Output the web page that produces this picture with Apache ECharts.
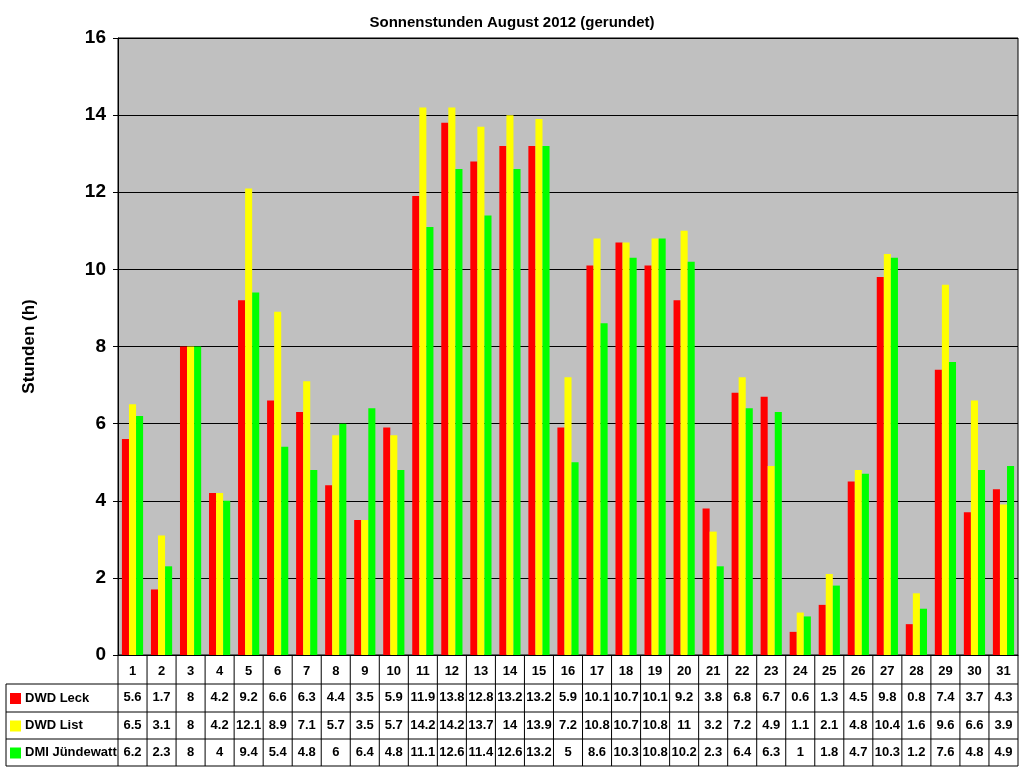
<!DOCTYPE html>
<html>
<head>
<meta charset="utf-8">
<script src="https://cdn.jsdelivr.net/npm/echarts@6/dist/echarts.min.js"></script>
<style>html,body{margin:0;padding:0;background:#fff}#chart{width:1024px;height:768px}</style>
</head>
<body>
<div id="chart"></div>
<script>
var days = [];
for (var d = 1; d <= 31; d++) days.push(String(d));
var seriesNames = ['DWD Leck', 'DWD List', 'DMI Jündewatt'];
var seriesColors = ['#FF0000', '#FFFF00', '#00FF00'];
var leck = [5.6,1.7,8,4.2,9.2,6.6,6.3,4.4,3.5,5.9,11.9,13.8,12.8,13.2,13.2,5.9,10.1,10.7,10.1,9.2,3.8,6.8,6.7,0.6,1.3,4.5,9.8,0.8,7.4,3.7,4.3];
var list = [6.5,3.1,8,4.2,12.1,8.9,7.1,5.7,3.5,5.7,14.2,14.2,13.7,14,13.9,7.2,10.8,10.7,10.8,11,3.2,7.2,4.9,1.1,2.1,4.8,10.4,1.6,9.6,6.6,3.9];
var dmi = [6.2,2.3,8,4,9.4,5.4,4.8,6,6.4,4.8,11.1,12.6,11.4,12.6,13.2,5,8.6,10.3,10.8,10.2,2.3,6.4,6.3,1,1.8,4.7,10.3,1.2,7.6,4.8,4.9];
var yTicks = [0, 2, 4, 6, 8, 10, 12, 14, 16];
var allData = [leck, list, dmi];

var L = 118, R = 1018, T = 38, B = 655;
var rowEdges = [655, 684, 712, 739, 766];
var font = 'Arial, "Liberation Sans", sans-serif';

var chart = echarts.init(document.getElementById('chart'));

// Tabellen-Rahmen
var graphics = [];
var cw = (R - L) / days.length;
graphics.push({type: 'line', shape: {x1: L, y1: B, x2: L, y2: rowEdges[4]}, style: {stroke: '#000', lineWidth: 1}});
for (var i = 1; i <= days.length; i++) {
    graphics.push({type: 'line', shape: {x1: L + i * cw, y1: B, x2: L + i * cw, y2: rowEdges[4]}, style: {stroke: '#000', lineWidth: 1}});
}
for (var r = 1; r < rowEdges.length; r++) {
    graphics.push({type: 'line', shape: {x1: 6, y1: rowEdges[r], x2: R, y2: rowEdges[r]}, style: {stroke: '#000', lineWidth: 1}});
}
graphics.push({type: 'line', shape: {x1: 6, y1: rowEdges[1], x2: 6, y2: rowEdges[4]}, style: {stroke: '#000', lineWidth: 1}});
seriesNames.forEach(function (name, k) {
    var cy = (rowEdges[k + 1] + rowEdges[k + 2]) / 2;
    graphics.push({type: 'rect', shape: {x: 10, y: cy - 5, width: 11, height: 11}, style: {fill: seriesColors[k]}});
    graphics.push({type: 'text', x: 25, y: cy, style: {text: name, font: 'bold 13px ' + font, fill: '#000', verticalAlign: 'middle'}});
});

var xAxes = [{
    type: 'category', data: days, gridIndex: 0, position: 'bottom',
    axisLine: {lineStyle: {color: '#000'}}, axisTick: {show: false},
    axisLabel: {color: '#000', fontWeight: 'bold', fontSize: 13, fontFamily: font, margin: 10}
}];
allData.forEach(function (arr, k) {
    var cy = (rowEdges[k + 1] + rowEdges[k + 2]) / 2;
    xAxes.push({
        type: 'category', data: arr.map(String), gridIndex: 0, position: 'bottom',
        offset: cy - B - 7, axisLine: {show: false}, axisTick: {show: false},
        axisLabel: {color: '#000', fontWeight: 'bold', fontSize: 13, fontFamily: font, margin: 0, interval: 0}
    });
});

chart.setOption({
    animation: false,
    title: {
        text: 'Sonnenstunden August 2012 (gerundet)', left: 'center', top: 10,
        textStyle: {fontSize: 15, fontWeight: 'bold', fontFamily: font, color: '#000'}
    },
    grid: {left: L, right: 1024 - R, top: T, bottom: 768 - B, backgroundColor: '#C0C0C0', show: true, borderColor: '#000', borderWidth: 1},
    xAxis: xAxes,
    yAxis: {
        type: 'value', min: yTicks[0], max: yTicks[yTicks.length - 1], interval: 2,
        name: 'Stunden (h)', nameLocation: 'middle', nameGap: 80,
        nameTextStyle: {fontSize: 17, fontWeight: 'bold', fontFamily: font, color: '#000'},
        axisLine: {show: true, lineStyle: {color: '#000'}},
        axisTick: {show: true, inside: false, length: 5, lineStyle: {color: '#000'}},
        axisLabel: {color: '#000', fontSize: 19, fontWeight: 'bold', fontFamily: font, margin: 12},
        splitLine: {lineStyle: {color: '#000', width: 1}}
    },
    series: allData.map(function (arr, k) {
        return {
            name: seriesNames[k], type: 'bar', data: arr, xAxisIndex: 0,
            barGap: '0%', barCategoryGap: '27%',
            itemStyle: {color: seriesColors[k]}
        };
    }),
    graphic: graphics
});
</script>
</body>
</html>
